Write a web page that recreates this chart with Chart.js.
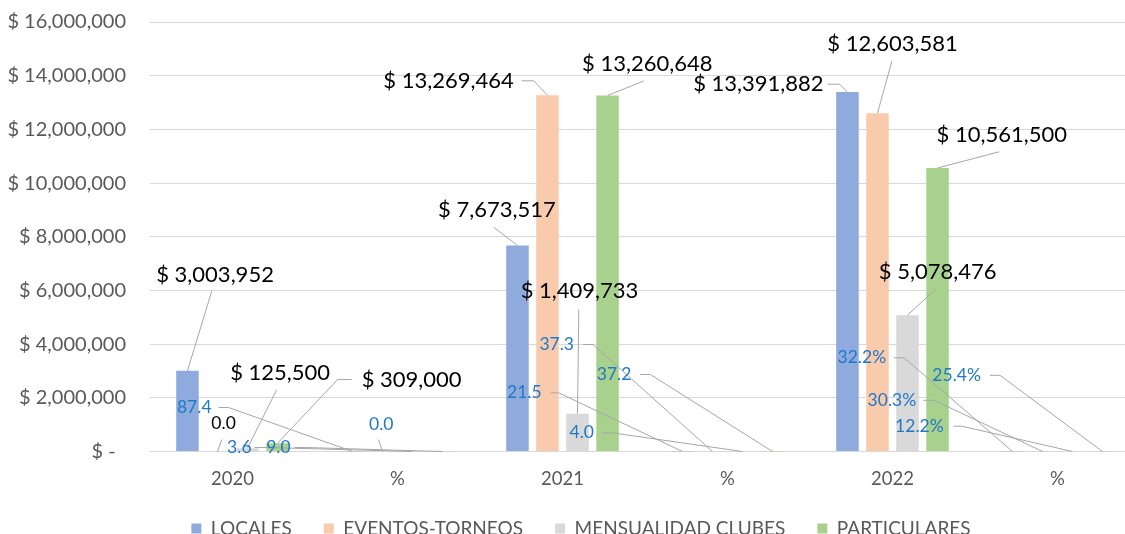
<!DOCTYPE html>
<html>
<head>
<meta charset="utf-8">
<script src="https://cdn.jsdelivr.net/npm/chart.js@4.4.1/dist/chart.umd.min.js"></script>
<style>
html, body { margin: 0; padding: 0; background: #ffffff; overflow: hidden; }
#wrap { position: relative; width: 1145px; height: 558px; }
</style>
</head>
<body>
<div id="wrap"><canvas id="chart"></canvas></div>
<script>
// ---------- DATA ----------
const categories = ['2020', '%', '2021', '%', '2022', '%'];
const seriesNames = ['LOCALES', 'EVENTOS-TORNEOS', 'MENSUALIDAD CLUBES', 'PARTICULARES'];
const locales = [3003952, 87.4, 7673517, 21.5, 13391882, 32.2];
const eventosTorneos = [0, 0.0, 13269464, 37.3, 12603581, 30.3];
const mensualidadClubes = [125500, 3.6, 1409733, 4.0, 5078476, 12.2];
const particulares = [309000, 9.0, 13260648, 37.2, 10561500, 25.4];
const categoryKind = ['money', 'pct', 'money', 'pct', 'money', 'pct'];
const pctSuffix = ['', '', '', '', '', '%'];
const yMin = 0;
const yMax = 16000000;
const yStep = 2000000;

// ---------- STYLE ----------
const FONT = "Lato, 'Open Sans', sans-serif";
const colors = ['#8FAADC', '#F8CBAD', '#D9D9D9', '#A9D18E'];
const moneyFont = "22px " + FONT;
const pctFont = "17.5px " + FONT;
const pctColor = '#1F78C8';
const leaderColor = '#A6A6A6';

// label placement relative to each bar top: [dx, dy, mode, a, b]
// mode 'b': leader from label centre + (a,b); 'r'/'l': leader leaves label side after gap a, runs horizontally b
const labelLayout = [
  [[27.6, -96, 'b', -3.3, 16.2], [-158.2, -44, 'r', 7, 10], [-20.5, -35.2, 'b', -3.2, 17], [-158.1, -58.7, 'r', 9, 8], [-89.1, -7.8, 'r', 4, 12], [-150.6, -93.7, 'r', 8, 10]],
  [[6.1, -28, 'b', -1.8, 16], [-1.2, -27, 'b', -2.7, 15], [-99, -14.5, 'r', 8, 12], [-155.8, -107, 'r', 9, 10], [15.1, -69.1, 'b', -0.7, 17], [-150.6, -51.2, 'r', 7, 11]],
  [[32.6, -75.6, 'b', -3.3, 17], [-173.2, -4, 'r', 3, 12], [2, -122.6, 'b', -0.7, 18.3], [-160.8, -18.7, 'r', 8, 10], [30.1, -43.7, 'b', -1.7, 17.5], [-153.1, -25.3, 'r', 10, 8]],
  [[134.1, -63.7, 'l', 10, 14], [-164.2, -4, 'r', 4, 10], [39.7, -31.3, 'b', -3.4, 16.7], [-158.5, -77, 'r', 9, 10], [64.2, -32.8, 'b', -2.5, 16.6], [-145.9, -76.2, 'r', 9, 10]]
];

function labelFor(v, ci) {
  if (categoryKind[ci] === 'money') {
    if (v === 0) return { text: '0.0', font: pctFont, color: '#000000' };
    return { text: '$ ' + v.toLocaleString('en-US'), font: moneyFont, color: '#000000' };
  }
  return { text: v.toFixed(1) + pctSuffix[ci], font: pctFont, color: pctColor };
}

const leaderLabels = {
  id: 'leaderLabels',
  afterDatasetsDraw(chart) {
    const ctx = chart.ctx;
    const items = [];
    chart.data.datasets.forEach((ds, si) => {
      const meta = chart.getDatasetMeta(si);
      meta.data.forEach((bar, ci) => {
        const lb = labelFor(ds.data[ci], ci);
        const L = labelLayout[si][ci];
        const ax = bar.x, ay = bar.y;
        const cx = ax + L[0], cy = ay + L[1];
        ctx.font = lb.font;
        const w = ctx.measureText(lb.text).width;
        items.push({ lb, L, ax, ay, cx, cy, w });
      });
    });
    ctx.save();
    ctx.strokeStyle = leaderColor;
    ctx.lineWidth = 1;
    items.forEach(({ L, ax, ay, cx, cy, w }) => {
      ctx.beginPath();
      if (L[2] === 'b') {
        ctx.moveTo(cx + L[3], cy + L[4]);
      } else if (L[2] === 'r') {
        const sx = cx + w / 2 + L[3];
        ctx.moveTo(sx, cy);
        ctx.lineTo(sx + L[4], cy);
      } else {
        const sx = cx - w / 2 - L[3];
        ctx.moveTo(sx, cy);
        ctx.lineTo(sx - L[4], cy);
      }
      ctx.lineTo(ax, ay);
      ctx.stroke();
    });
    ctx.textAlign = 'center';
    ctx.textBaseline = 'middle';
    items.forEach(({ lb, cx, cy }) => {
      ctx.font = lb.font;
      ctx.fillStyle = lb.color;
      ctx.fillText(lb.text, cx, cy);
    });
    ctx.restore();
  }
};

const legendShift = {
  id: 'legendShift',
  afterLayout(chart) {
    const lg = chart.legend;
    if (lg) {
      lg.left += 11; lg.right += 11;
      lg.top -= 10; lg.bottom -= 10;
    }
  }
};

const seriesValues = [locales, eventosTorneos, mensualidadClubes, particulares];

new Chart(document.getElementById('chart'), {
  type: 'bar',
  data: {
    labels: categories,
    datasets: seriesNames.map((name, i) => ({
      label: name,
      data: seriesValues[i],
      backgroundColor: colors[i],
      borderWidth: 0,
      categoryPercentage: 0.728,
      barPercentage: 0.75
    }))
  },
  options: {
    responsive: true,
    maintainAspectRatio: false,
    animation: false,
    events: [],
    layout: { padding: { top: 22, right: 5, left: 0, bottom: 0 } },
    plugins: {
      tooltip: { enabled: false },
      legend: {
        position: 'bottom',
        labels: {
          color: '#595959',
          font: { family: FONT, size: 19 },
          boxWidth: 10,
          boxHeight: 10,
          padding: 32
        }
      }
    },
    scales: {
      x: {
        grid: { display: false, drawTicks: false },
        border: { display: false },
        ticks: {
          color: '#595959',
          font: { family: FONT, size: 18.5 },
          padding: 16.5,
          maxRotation: 0,
          autoSkip: false
        },
        afterFit(s) { s.height = 45.5; s.paddingLeft = 0; s.paddingRight = 0; }
      },
      y: {
        min: yMin,
        max: yMax,
        grid: { color: '#D9D9D9', lineWidth: 1, drawTicks: false },
        border: { display: false },
        ticks: {
          stepSize: yStep,
          color: '#595959',
          font: { family: FONT, size: 20 },
          padding: 24,
          callback: v => v === 0 ? '$ -  ' : '$ ' + v.toLocaleString('en-US')
        },
        afterFit(s) { s.width = 150; s.paddingTop = 12; s.paddingBottom = 12; }
      }
    }
  },
  plugins: [leaderLabels, legendShift]
});
</script>
</body>
</html>
